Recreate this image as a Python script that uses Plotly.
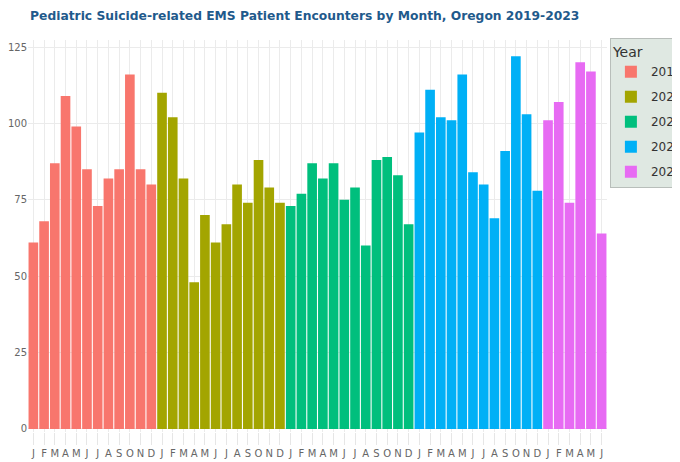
import plotly.graph_objects as go

months = ["J", "F", "M", "A", "M", "J", "J", "A", "S", "O", "N", "D"]
years = ["2019", "2020", "2021", "2022", "2023"]
v2019 = [61, 68, 87, 109, 99, 85, 73, 82, 85, 116, 85, 80]
v2020 = [110, 102, 82, 48, 70, 61, 67, 80, 74, 88, 79, 74]
v2021 = [73, 77, 87, 82, 87, 75, 79, 60, 88, 89, 83, 67]
v2022 = [97, 111, 102, 101, 116, 84, 80, 69, 91, 122, 103, 78]
v2023 = [101, 107, 74, 120, 117, 64]
series = [v2019, v2020, v2021, v2022, v2023]
colors = ["#F8766D", "#A3A500", "#00BF7D", "#00B0F6", "#E76BF3"]

fig = go.Figure()
idx = 0
tickvals, ticktext = [], []
for yr, vals, c in zip(years, series, colors):
    xs = list(range(idx, idx + len(vals)))
    fig.add_trace(go.Bar(x=xs, y=vals, name=yr, legendgroup=yr,
                         marker=dict(color=c, line=dict(width=0))))
    tickvals += xs
    ticktext += months[:len(vals)]
    idx += len(vals)

# page has an 8px body margin, so the figure is drawn at (8, 8); the legend
# runs off the right edge of the window as in the reference
fig.update_layout(
    width=720, height=454,
    margin=dict(l=20, r=121, t=32, b=30, autoexpand=False),
    paper_bgcolor="white", plot_bgcolor="white",
    bargap=0.1,
    title=dict(text="<b>Pediatric Suicide-related EMS Patient Encounters by Month, Oregon 2019-2023</b>",
               x=0.0306, xanchor="left", y=0.993, yanchor="top",
               font=dict(family="DejaVu Sans", size=12.3, color="#1f5a8c")),
    legend=dict(title=dict(text="Year", font=dict(size=14, color="#333")),
                x=1.005, xanchor="left", y=1.005, yanchor="top",
                bgcolor="#dfe8e2", bordercolor="#b8beba", borderwidth=1,
                font=dict(family="DejaVu Sans", size=12, color="#333"),
                tracegroupgap=6),
    showlegend=True,
)
fig.update_xaxes(tickmode="array", tickvals=tickvals, ticktext=ticktext,
                 range=[-0.5, idx - 0.5], showgrid=True, gridcolor="#ebebeb", gridwidth=1,
                 ticks="outside", ticklen=12, tickcolor="#e6e6e6", tickwidth=1,
                 tickfont=dict(family="DejaVu Sans", size=10, color="#666"), tickangle=0,
                 zeroline=False, showline=False)
fig.update_yaxes(range=[-1, 127.3], tickvals=[0, 25, 50, 75, 100, 125],
                 showgrid=True, gridcolor="#ebebeb", gridwidth=1, zeroline=False,
                 ticks="",
                 tickfont=dict(family="DejaVu Sans", size=10, color="#666"))

fig.write_html("out.html")
